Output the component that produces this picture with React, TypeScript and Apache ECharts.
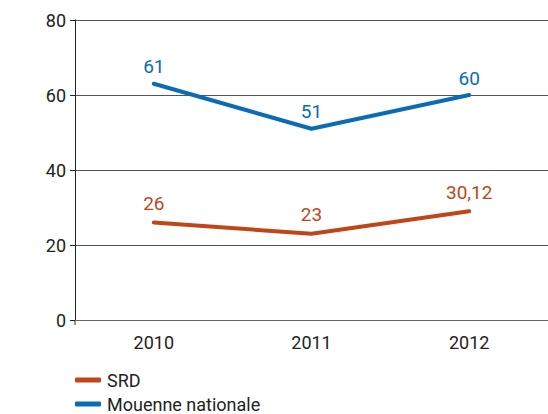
import React, { useEffect, useRef } from "react";
import * as echarts from "echarts";

const years = ["2010", "2011", "2012"];
const srdValues = [26, 23, 29];
const srdLabels = ["26", "23", "30,12"];
const nationalValues = [63, 51, 60];
const nationalLabels = ["61", "51", "60"];
const legendNames = ["SRD", "Mouenne nationale"];
const yTicks = { min: 0, max: 80, interval: 20 };

const RED = "#c0461a";
const BLUE = "#0a6cb5";
const FONT = "Roboto";

export default function App() {
  const ref = useRef<HTMLDivElement>(null);
  useEffect(() => {
    document.body.style.margin = "0";
    const chart = echarts.init(ref.current!, null, { renderer: "svg" });
    const legendCommon = {
      left: 70,
      itemWidth: 26,
      itemHeight: 5,
      icon: "roundRect",
      padding: [2, 5, 0, 5],
      textStyle: { fontSize: 18, lineHeight: 20, color: "#222", fontFamily: FONT, padding: [0, 0, 0, 1] },
    };
    chart.setOption({
      animation: false,
      backgroundColor: "#ffffff",
      textStyle: { fontFamily: FONT },
      grid: { left: 75, right: 0, top: 20, bottom: 94, containLabel: false },
      legend: [
        { ...legendCommon, top: 368, data: [legendNames[0]] },
        { ...legendCommon, top: 392, data: [legendNames[1]] },
      ],
      xAxis: {
        type: "category",
        data: years,
        boundaryGap: true,
        axisLine: { show: true, lineStyle: { color: "#666", width: 1 } },
        axisTick: { show: false },
        axisLabel: { fontSize: 18, color: "#222", margin: 13, fontFamily: FONT },
        splitLine: { show: false },
      },
      yAxis: {
        type: "value",
        min: yTicks.min,
        max: yTicks.max,
        interval: yTicks.interval,
        axisLine: { show: true, lineStyle: { color: "#222", width: 1 } },
        axisTick: { show: true, length: 5, lineStyle: { color: "#222" } },
        axisLabel: { fontSize: 18, color: "#222", margin: 9, fontFamily: FONT },
        splitLine: { show: true, lineStyle: { color: "#555", width: 1 } },
      },
      series: [
        {
          name: legendNames[0],
          type: "line",
          data: srdValues,
          color: RED,
          symbol: "circle",
          symbolSize: 3,
          lineStyle: { color: RED, width: 4, cap: "round", join: "round" },
          itemStyle: { color: RED },
          label: {
            show: true,
            position: "top",
            distance: 8,
            fontSize: 19,
            color: RED,
            fontFamily: FONT,
            formatter: (p: any) => srdLabels[p.dataIndex],
          },
        },
        {
          name: legendNames[1],
          type: "line",
          data: nationalValues,
          color: BLUE,
          symbol: "circle",
          symbolSize: 3,
          lineStyle: { color: BLUE, width: 4, cap: "round", join: "round" },
          itemStyle: { color: BLUE },
          label: {
            show: true,
            position: "top",
            distance: 6,
            fontSize: 19,
            color: BLUE,
            fontFamily: FONT,
            formatter: (p: any) => nationalLabels[p.dataIndex],
          },
        },
      ],
      graphic: [
        {
          type: "line",
          shape: { x1: 75, y1: 320, x2: 75, y2: 325 },
          style: { stroke: "#222", lineWidth: 1 },
        },
      ],
    });
    return () => chart.dispose();
  }, []);
  return <div ref={ref} style={{ width: 548, height: 414 }} />;
}
